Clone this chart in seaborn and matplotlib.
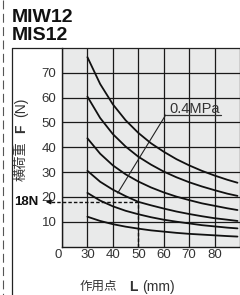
import matplotlib
matplotlib.use("Agg")
import matplotlib.pyplot as plt
from matplotlib.lines import Line2D
import seaborn as sns
import pandas as pd

# load point L (mm) and lateral load F (N), one list per pressure curve (top to bottom)
load_point = [30, 35, 40, 45, 50, 55, 60, 65, 70, 75, 80, 85, 89]
curve_1 = [76.3, 65.5, 57.3, 50.9, 45.8, 41.6, 38.2, 35.2, 32.7, 30.5, 28.6, 26.9, 25.7]
curve_2 = [60.4, 51.8, 45.3, 40.3, 36.2, 33.0, 30.2, 27.9, 25.9, 24.2, 22.7, 21.3, 20.4]
curve_3 = [43.6, 37.4, 32.7, 29.1, 26.2, 23.8, 21.8, 20.1, 18.7, 17.4, 16.4, 15.4, 14.7]
curve_4 = [30.5, 26.1, 22.9, 20.3, 18.0, 16.6, 15.3, 14.1, 13.1, 12.2, 11.4, 10.8, 10.3]
curve_5 = [21.6, 18.5, 16.2, 14.4, 13.0, 11.8, 10.8, 10.0, 9.3, 8.6, 8.1, 7.6, 7.3]
curve_6 = [12.0, 10.3, 9.0, 8.0, 7.2, 6.5, 6.0, 5.5, 5.1, 4.8, 4.5, 4.2, 4.0]
curves = [curve_1, curve_2, curve_3, curve_4, curve_5, curve_6]

x_ticks = [20, 30, 40, 50, 60, 70, 80, 90]
x_tick_labels = ["0", "30", "40", "50", "60", "70", "80", "90"]
y_ticks = [10, 20, 30, 40, 50, 60, 70]

example_L = 50      # dashed read-off example
example_F = 18
label_curve = "0.4MPa"
leader_L, leader_F = 41.9, 21.5

rows = []
for i, vals in enumerate(curves):
    for l, f in zip(load_point, vals):
        rows.append({"L": l, "F": f, "curve": f"c{i}"})
df = pd.DataFrame(rows)

sns.set_style("white")
plt.rcParams["font.family"] = ["Liberation Sans", "Noto Sans CJK JP", "DejaVu Sans"]

W, H = 240, 295
fig = plt.figure(figsize=(W / 100, H / 100), dpi=100)

def fx(px):
    return px / W

def fy(py):
    return 1 - py / H

ax = fig.add_axes([fx(62), fy(246.5), fx(240) - fx(62), fy(48) - fy(246.5)])
ax.set_facecolor("#e9eaea")

sns.lineplot(data=df, x="L", y="F", hue="curve", palette=["#111111"] * 6,
             legend=False, linewidth=1.3, ax=ax, estimator=None, sort=True)

ax.set_xlim(20, 88.46)
ax.set_ylim(0, 80)
ax.set_xticks(x_ticks)
ax.set_xticklabels([])
ax.set_yticks(y_ticks)
ax.set_yticklabels([str(v) for v in y_ticks], color="#333333", fontsize=9.5)
ax.grid(True, color="#1a1a1a", linewidth=0.9)
ax.set_axisbelow(True)
ax.tick_params(axis="y", length=2.5, width=0.9, pad=1.5, color="#1a1a1a")
ax.tick_params(axis="x", length=0)
ax.set_xlabel("")
ax.set_ylabel("")
for s in ["top", "right"]:
    ax.spines[s].set_visible(False)
for s in ["left", "bottom"]:
    ax.spines[s].set_color("#1a1a1a")
    ax.spines[s].set_linewidth(1.0)

# x tick labels (axis starts at 20 but is labelled 0)
for xt, lab in zip(x_ticks, x_tick_labels):
    if xt > 88:
        continue
    ha = "right" if xt == 20 else "center"
    ax.text(xt, -1.0, lab, ha=ha, va="top", fontsize=9.5, color="#333333", clip_on=False)

# dashed read-off lines and arrow
ax.plot([example_L, example_L], [0, example_F], ls=(0, (2.5, 1.5)), color="#111111", lw=1.0)
ax.plot([example_L, 15.6], [example_F, example_F], ls=(0, (2.5, 1.5)), color="#111111",
        lw=1.0, clip_on=False)
ax.annotate("", xy=(13.6, example_F), xytext=(16.0, example_F), annotation_clip=False,
            arrowprops=dict(arrowstyle="-|>", color="#111111", lw=0.8, mutation_scale=7,
                            shrinkA=0, shrinkB=0))
fig.text(fx(26), fy(201.7), f"{example_F}N", ha="center", va="center", fontsize=9.5,
         fontweight="bold", color="#111111")

# pressure label with leader
ax.plot([leader_L, 60.77], [leader_F, 53.0], color="#222222", lw=0.8)
ax.plot([60.77, 82.7], [53.0, 53.0], color="#333333", lw=0.9)
ax.text(72.0, 54.0, label_curve, ha="center", va="baseline", fontsize=10.5, color="#333333")

# titles
fig.text(fx(12), fy(22), "MIW12", ha="left", va="baseline", fontsize=14,
         fontweight="bold", color="#111111")
fig.text(fx(12), fy(40.5), "MIS12", ha="left", va="baseline", fontsize=14,
         fontweight="bold", color="#111111")

# axis labels (mixed weights)
fig.text(fx(21), fy(161), "横荷重", rotation=90, ha="center", va="center",
         fontsize=9.5, color="#333333")
fig.text(fx(21), fy(129), "F", rotation=90, ha="center", va="center",
         fontsize=10, fontweight="bold", color="#333333")
fig.text(fx(21), fy(107), "(N)", rotation=90, ha="center", va="center",
         fontsize=10, color="#333333")
fig.text(fx(98.5), fy(287), "作用点", ha="center", va="center", fontsize=9, color="#333333")
fig.text(fx(133.5), fy(287), "L", ha="center", va="center", fontsize=10,
         fontweight="bold", color="#333333")
fig.text(fx(158.5), fy(287), "(mm)", ha="center", va="center", fontsize=10, color="#333333")

# panel frame and page edge
fig.add_artist(Line2D([fx(12), fx(12)], [fy(47.7), 0], color="#222222", lw=0.9))
fig.add_artist(Line2D([fx(12), 1], [fy(47.7), fy(47.7)], color="#222222", lw=0.9))
fig.add_artist(Line2D([fx(3), fx(3)], [1, 0], color="#555555", lw=0.8,
                      linestyle=(0, (8, 4))))

fig.savefig("out.png", dpi=100)
